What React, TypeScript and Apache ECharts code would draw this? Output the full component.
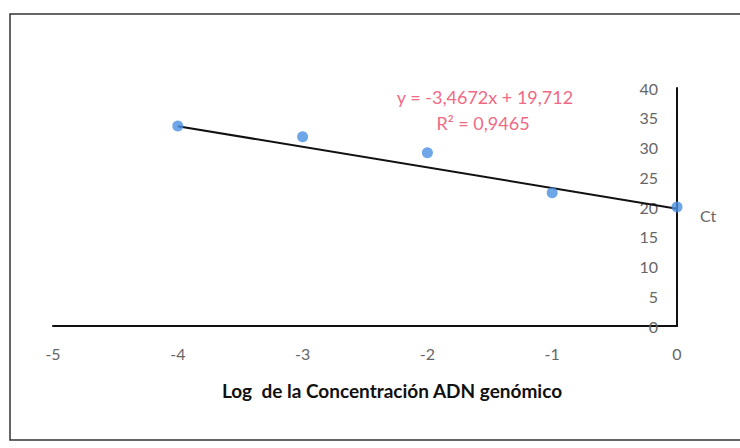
import React, { useEffect, useRef } from "react";
import * as echarts from "echarts";

const logConc = [-4, -3, -2, -1, 0];
const ctValues = [33.6, 31.8, 29.1, 22.4, 20.0];
const slope = -3.4672;
const intercept = 19.712;
const trendX = [-4, 0];
const xTicks = [-5, -4, -3, -2, -1, 0];
const equationText = "y = -3,4672x + 19,712";
const r2Text = "R² = 0,9465";
const xTitle = "Log  de la Concentración ADN genómico";
const yName = "Ct";

export default function App() {
  const ref = useRef<HTMLDivElement>(null);
  useEffect(() => {
    if (!ref.current) return;
    const chart = echarts.init(ref.current, null, { renderer: "svg" });
    const font = "Lato, 'Noto Sans', sans-serif";
    chart.setOption({
      animation: false,
      backgroundColor: "#ffffff",
      textStyle: { fontFamily: font },
      grid: { left: 53, right: 63, top: 88, bottom: 122 },
      xAxis: {
        type: "value",
        min: xTicks[0],
        max: xTicks[xTicks.length - 1],
        interval: 1,
        axisLine: { onZero: false, lineStyle: { color: "#111", width: 2 } },
        axisTick: { show: false },
        splitLine: { show: false },
        axisLabel: { color: "#666", fontSize: 16, margin: 19, fontFamily: font },
      },
      yAxis: {
        type: "value",
        position: "right",
        min: 0,
        max: 40,
        interval: 5,
        name: yName,
        nameLocation: "middle",
        nameRotate: 0,
        nameGap: 23,
        nameTextStyle: { color: "#666", fontSize: 16, align: "left", verticalAlign: "top", fontFamily: font },
        axisLine: { show: true, onZero: false, lineStyle: { color: "#111", width: 2 } },
        axisTick: { show: false },
        splitLine: { show: false },
        axisLabel: { inside: true, color: "#666", fontSize: 16, margin: 19, fontFamily: font },
      },
      series: [
        {
          type: "line",
          data: trendX.map((x) => [x, slope * x + intercept]),
          symbol: "none",
          lineStyle: { color: "#111", width: 2 },
          z: 2,
        },
        {
          type: "scatter",
          data: logConc.map((x, i) => [x, ctValues[i]]),
          symbolSize: 11,
          itemStyle: { color: "#4a90e2" },
          z: 3,
        },
      ],
      graphic: [
        {
          type: "rect",
          shape: { x: 10, y: 14, width: 740, height: 426 },
          style: { fill: "none", stroke: "#333", lineWidth: 1.5 },
          silent: true,
        },
        {
          type: "text",
          x: 485,
          y: 97,
          style: {
            text: equationText,
            fill: "#f06a85",
            fontSize: 18,
            fontFamily: font,
            align: "center",
            verticalAlign: "middle",
          },
        },
        {
          type: "text",
          x: 483,
          y: 123,
          style: {
            text: r2Text,
            fill: "#f06a85",
            fontSize: 18,
            fontFamily: font,
            align: "center",
            verticalAlign: "middle",
          },
        },
        {
          type: "text",
          x: 392,
          y: 390,
          style: {
            text: xTitle,
            fill: "#111",
            fontSize: 19,
            fontWeight: "bold",
            fontFamily: font,
            align: "center",
            verticalAlign: "middle",
          },
        },
      ],
    });
    return () => chart.dispose();
  }, []);
  return (
    <div
      ref={ref}
      style={{ position: "fixed", left: 0, top: 0, width: 740, height: 448 }}
    />
  );
}
